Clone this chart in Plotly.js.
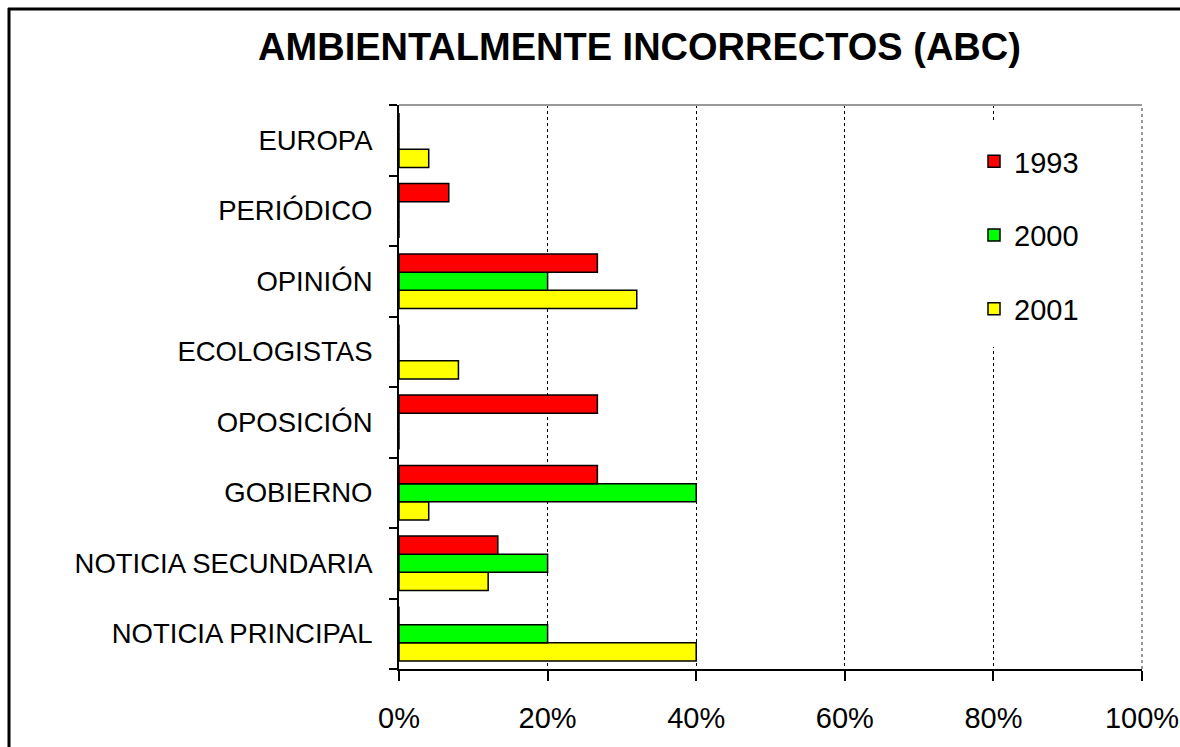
<!DOCTYPE html>
<html>
<head>
<meta charset="utf-8">
<script src="https://cdn.plot.ly/plotly-3.0.1.min.js"></script>
<style>html,body{margin:0;padding:0;background:#fff;}#chart{width:1180px;height:747px;}</style>
</head>
<body>
<div id="chart"></div>
<script>
// Categories (bottom to top)
const categories = ["NOTICIA PRINCIPAL", "NOTICIA SECUNDARIA", "GOBIERNO", "OPOSICIÓN", "ECOLOGISTAS", "OPINIÓN", "PERIÓDICO", "EUROPA"];
// Series values (percent)
const v1993 = [0, 13.3, 26.7, 26.7, 0, 26.7, 6.7, 0];
const v2000 = [20, 20, 40, 0, 0, 20, 0, 0];
const v2001 = [40, 12, 4, 0, 8, 32, 0, 4];
const seriesNames = ["1993", "2000", "2001"];
const xTicks = [0, 20, 40, 60, 80, 100];

const W = 1180, H = 747;
const L = 399, R = 1142, T = 105, B = 669;
const pw = R - L, ph = B - T;
const px = x => (x - L) / pw;
const py = y => (B - y) / ph;
const FONT = 'Arial, "Liberation Sans", sans-serif';

const lineStyle = {color: '#000', width: 1.5};
function bar(name, vals, color, rank) {
  return {
    type: 'bar', orientation: 'h', name: name, legendgroup: name, legendrank: rank,
    y: categories, x: vals,
    marker: {color: color, line: lineStyle},
    hoverinfo: 'skip'
  };
}
// order so that 1993 is on top inside each group
const data = [
  bar(seriesNames[2], v2001, '#ffff00', 3),
  bar(seriesNames[1], v2000, '#00ff00', 2),
  bar(seriesNames[0], v1993, '#ff0000', 1)
];

const layout = {
  width: W, height: H,
  margin: {l: L, r: W - R, t: T, b: H - B, pad: 0},
  paper_bgcolor: '#fff', plot_bgcolor: '#fff',
  font: {family: FONT, color: '#000'},
  title: {
    text: 'AMBIENTALMENTE INCORRECTOS (ABC)',
    font: {family: FONT, size: 38, weight: 'bold', color: '#000'},
    xref: 'container', yref: 'container',
    x: 639.5 / W, xanchor: 'center',
    y: 1 - 47 / H, yanchor: 'middle'
  },
  barmode: 'group', bargap: 0.23, bargroupgap: 0,
  xaxis: {
    range: [0, 100], tickvals: xTicks, ticktext: xTicks.map(v => v + '%'),
    ticks: 'outside', ticklen: 10, tickwidth: 2, tickcolor: '#000',
    showline: true, linecolor: '#000', linewidth: 2,
    showgrid: true, gridcolor: '#000', gridwidth: 1, griddash: 'dot',
    zeroline: false, fixedrange: true,
    tickfont: {size: 29, family: FONT},
    ticklabelstandoff: 12
  },
  yaxis: {
    type: 'category', categoryorder: 'array', categoryarray: categories,
    tickson: 'boundaries', ticks: 'outside', ticklen: 8, tickwidth: 2, tickcolor: '#000',
    showline: true, linecolor: '#000', linewidth: 2,
    showgrid: false, zeroline: false, fixedrange: true,
    tickfont: {size: 27.5, family: FONT},
    ticklabelstandoff: 19
  },
  showlegend: true,
  legend: {
    x: px(974), xanchor: 'left', y: py(136), yanchor: 'top',
    bgcolor: '#fff', borderwidth: 0,
    traceorder: 'grouped', tracegroupgap: 33,
    font: {size: 29, family: FONT}
  },
  shapes: [
    // plot frame: top gray line and right gray dotted line
    {type: 'line', xref: 'paper', yref: 'paper', x0: 0, x1: 1, y0: 1, y1: 1, line: {color: '#999', width: 2}, layer: 'above'},
    {type: 'line', xref: 'paper', yref: 'paper', x0: 1, x1: 1, y0: 0, y1: 1, line: {color: '#999', width: 2, dash: 'dot'}, layer: 'above'},
    // white area behind legend over the gridline
    {type: 'rect', xref: 'paper', yref: 'paper', x0: px(984), x1: px(1004), y0: py(347), y1: py(120), fillcolor: '#fff', line: {width: 0}, layer: 'above'},
    // outer border (top and left)
    {type: 'line', xref: 'paper', yref: 'paper', x0: px(8), x1: px(1180), y0: py(9), y1: py(9), line: {color: '#000', width: 3}, layer: 'above'},
    {type: 'line', xref: 'paper', yref: 'paper', x0: px(9), x1: px(9), y0: py(8), y1: py(747), line: {color: '#000', width: 3}, layer: 'above'}
  ]
};

Plotly.newPlot('chart', data, layout, {displayModeBar: false, staticPlot: true});
</script>
</body>
</html>
